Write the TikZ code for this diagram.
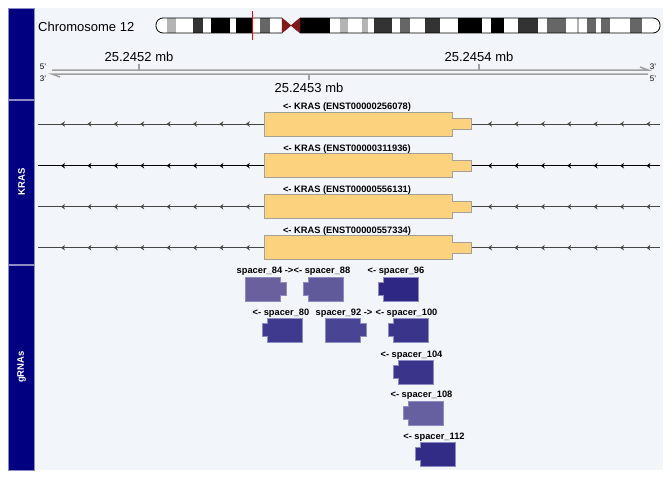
\documentclass[tikz,border=0pt]{standalone}
\usepackage{fontspec}
\setmainfont{Liberation Sans}
\usepackage{tikz}
\usetikzlibrary{positioning}

\definecolor{panelbg}{RGB}{242,245,250}
\definecolor{trackbar}{RGB}{0,0,128}
\definecolor{trackedge}{RGB}{140,140,195}
\definecolor{bandlight}{RGB}{180,180,180}
\definecolor{bandmid}{RGB}{102,102,102}
\definecolor{banddark}{RGB}{51,51,51}
\definecolor{centro}{RGB}{128,26,26}
\definecolor{axisgray}{RGB}{160,160,160}
\definecolor{trline}{RGB}{70,70,70}
\definecolor{genefill}{RGB}{253,210,127}
\definecolor{genedraw}{RGB}{165,160,150}
\definecolor{spA}{RGB}{106,96,158}
\definecolor{spB}{RGB}{96,90,155}
\definecolor{spC}{RGB}{46,40,132}
\definecolor{spD}{RGB}{64,58,142}
\definecolor{spE}{RGB}{74,68,148}
\definecolor{spF}{RGB}{58,52,138}
\definecolor{spG}{RGB}{102,96,160}
\definecolor{spH}{RGB}{50,44,134}

% spacer box, notch on the left: x of body, top y, colour
\newcommand{\spacerleft}[3]{%
  \draw[spacer_box, fill=#3] (#1,#2) -- (#1+35,#2) -- (#1+35,#2+24) -- (#1,#2+24)
    -- (#1,#2+18.5) -- (#1-5,#2+18.5) -- (#1-5,#2+5.5) -- (#1,#2+5.5) -- cycle;}
% spacer box, notch on the right
\newcommand{\spacerright}[3]{%
  \draw[spacer_box, fill=#3] (#1,#2) -- (#1+35,#2) -- (#1+35,#2+5.5) -- (#1+41,#2+5.5)
    -- (#1+41,#2+18.5) -- (#1+35,#2+18.5) -- (#1+35,#2+24) -- (#1,#2+24) -- cycle;}

\begin{document}
\begin{tikzpicture}[x=1pt, y=-1pt,
    title_style/.style={font=\fontsize{13}{15}\selectfont, inner sep=0pt},
    strand_style/.style={font=\fontsize{8}{9}\selectfont, inner sep=0pt},
    track_title/.style={font=\fontsize{9.5}{11}\selectfont\bfseries, text=white, rotate=90, inner sep=0pt},
    track_box/.style={fill=trackbar, draw=trackedge, line width=0.4pt},
    axis_line/.style={draw=axisgray, line width=1.5pt},
    gene_box/.style={fill=genefill, draw=genedraw, line width=0.7pt},
    gene_label/.style={font=\fontsize{9.3}{11}\selectfont\bfseries, inner sep=0pt},
    spacer_box/.style={draw=trackedge, line width=0.5pt},
    spacer_label/.style={font=\fontsize{9.3}{11}\selectfont\bfseries, inner sep=0pt}]

	\useasboundingbox (0,0) rectangle (672,480);
	\fill[white] (0,0) rectangle (672,480);
	\fill[panelbg] (8,8) rectangle (663,470);

	% track title bars
	\draw[track_box] (8,8) rectangle (34,99.5);
	\draw[track_box] (8,100) rectangle (34,264);
	\draw[track_box] (8,265) rectangle (34,470);
	\node[track_title] (kras_title) at (21.5,182) {KRAS};
	\node[track_title] (grna_title) at (21.5,367) {gRNAs};

	% ideogram
	\node[title_style, anchor=west] (chr_title) at (38,27) {Chromosome 12};
	\fill[white, rounded corners=7] (282,18) -- (156,18) -- (156,33) -- (282,33) -- cycle;
	\fill[white, rounded corners=7] (300,18) -- (660,18) -- (660,33) -- (300,33) -- cycle;
	\foreach \a/\b/\c in {167/176/bandlight, 193/203/banddark, 211/230/black, 236/252/black,
	    260/270/bandmid, 300/330/black, 340/348/bandlight, 362/368/bandlight, 374/392/banddark,
	    400/410/bandmid, 425/440/banddark, 458/482/black, 491/504/black, 518/538/banddark,
	    547/566/bandmid, 577/578.5/bandlight, 587/596/bandmid, 601/610/bandmid, 630/642/bandmid}
	  \fill[\c] (\a,18) rectangle (\b,33);
	\draw[line width=0.8pt, rounded corners=7] (282,18) -- (156,18) -- (156,33) -- (282,33);
	\draw[line width=0.8pt, rounded corners=7] (300,18) -- (660,18) -- (660,33) -- (300,33);
	\filldraw[fill=centro, draw=centro] (282,18) -- (291,25.5) -- (282,33) -- cycle;
	\filldraw[fill=centro, draw=centro] (300,18) -- (291,25.5) -- (300,33) -- cycle;
	\draw[red, line width=0.9pt] (252,11) -- (252,40);

	% genome axis
	\coordinate (ax_top_l) at (52,70);
	\coordinate (ax_top_r) at (648,70);
	\coordinate (ax_bot_l) at (52,74);
	\coordinate (ax_bot_r) at (648,74);
	\draw[axis_line] (ax_top_l) -- (ax_top_r) -- ++(-8,-3);
	\draw[axis_line] (ax_bot_r) -- (ax_bot_l) -- ++(8,3);
	\draw[axis_line] (139,70) -- (139,64);
	\draw[axis_line] (309,74) -- (309,80);
	\draw[axis_line] (479,70) -- (479,64);
	\node[title_style] (tick_a) at (139,57) {25.2452 mb};
	\node[title_style] (tick_b) at (309,88) {25.2453 mb};
	\node[title_style] (tick_c) at (479,57) {25.2454 mb};
	\node[strand_style] (five_l) at (43,66.5) {5'};
	\node[strand_style] (three_l) at (43,78.5) {3'};
	\node[strand_style] (three_r) at (653,66.5) {3'};
	\node[strand_style] (five_r) at (653,78.5) {5'};

	% KRAS transcripts
	\foreach \n/\y/\c/\id in {1/124/trline/256078, 2/165.7/black/311936,
	    3/206.7/trline/556131, 4/247.7/trline/557334} {
	  \coordinate (tx\n_l) at (38,\y);
	  \coordinate (tx\n_r) at (660,\y);
	  \draw[\c, line width=0.9pt] (tx\n_l) -- (tx\n_r);
	  \foreach \x in {61,87.4,113.8,140.2,166.6,193,219.4,245.8,488,514.4,540.8,567.2,593.6,620,646.4}
	    \fill[\c] (\x,\y) -- ++(4,-2.8) -- ++(-1.2,2.8) -- ++(1.2,2.8) -- cycle;
	  \draw[gene_box] (264,\y-12) -- (452,\y-12) -- (452,\y-5.5) -- (471,\y-5.5)
	    -- (471,\y+5.5) -- (452,\y+5.5) -- (452,\y+12) -- (264,\y+12) -- cycle;
	  \node[gene_label] (tx\n_label) at (347,\y-17) {<- KRAS (ENST00000\id)};
	}

	% gRNAs
	\spacerright{245}{277}{spA}
	\spacerleft{308}{277}{spB}
	\spacerleft{383}{277}{spC}
	\spacerleft{267}{318}{spD}
	\spacerright{325}{318}{spE}
	\spacerleft{393}{318}{spF}
	\spacerleft{398}{360}{spF}
	\spacerleft{408}{401}{spG}
	\spacerleft{420}{442}{spH}
	\node[spacer_label] (sp84) at (265,271.5) {spacer\_84 ->};
	\node[spacer_label] (sp88) at (322,271.5) {<- spacer\_88};
	\node[spacer_label] (sp96) at (396,271.5) {<- spacer\_96};
	\node[spacer_label] (sp80) at (281,313) {<- spacer\_80};
	\node[spacer_label] (sp92) at (344,313) {spacer\_92 ->};
	\node[spacer_label] (sp100) at (406.5,313) {<- spacer\_100};
	\node[spacer_label] (sp104) at (411.5,355) {<- spacer\_104};
	\node[spacer_label] (sp108) at (421.5,395.5) {<- spacer\_108};
	\node[spacer_label] (sp112) at (434,437.5) {<- spacer\_112};
\end{tikzpicture}
\end{document}
